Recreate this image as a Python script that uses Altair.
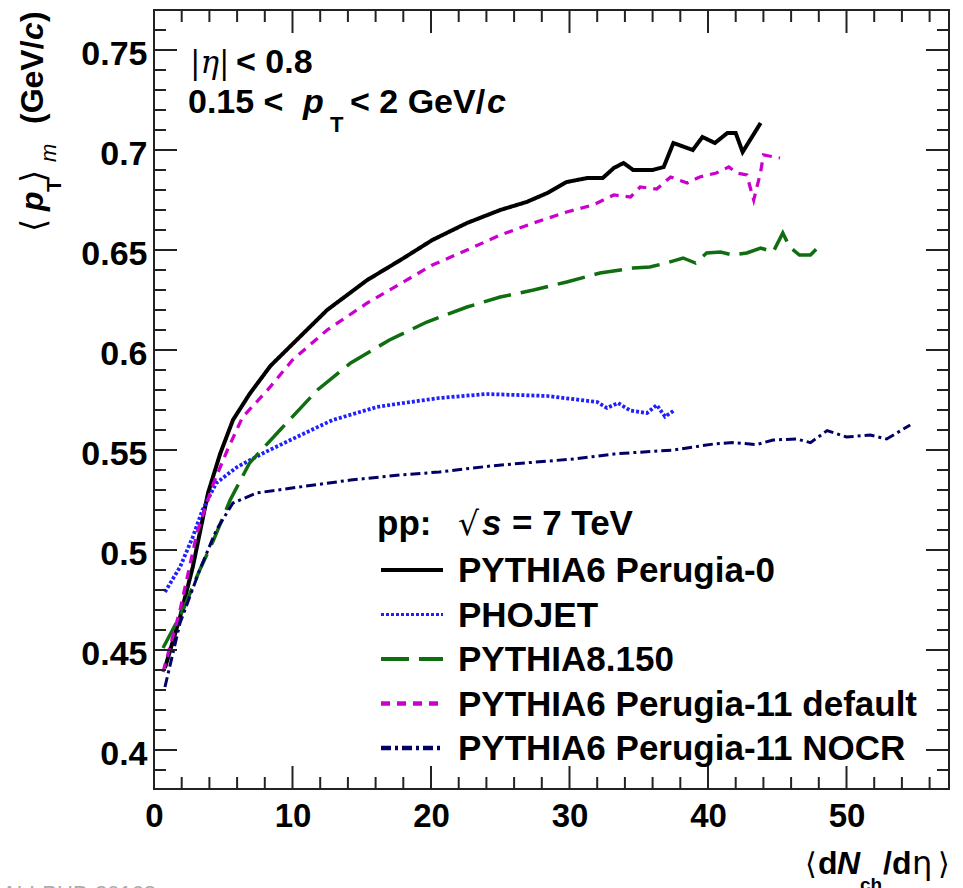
import altair as alt
import pandas as pd

# ---------------- data ----------------
names = ["PYTHIA6 Perugia-0", "PHOJET", "PYTHIA8.150",
         "PYTHIA6 Perugia-11 default", "PYTHIA6 Perugia-11 NOCR"]

p0_x = [0.79, 1.88, 2.8, 3.9, 4.77, 5.7, 6.9, 8.4, 10.3, 12.5, 15.4, 17.8, 20.1, 22.6,
        25.0, 26.9, 28.4, 29.8, 31.3, 32.4, 33.2, 33.9, 34.6, 36.0, 36.8, 37.5, 38.9,
        39.6, 40.5, 41.4, 42.0, 42.5, 43.8]
p0_y = [0.441, 0.4665, 0.4915, 0.5285, 0.548, 0.565, 0.578, 0.592, 0.605, 0.62, 0.635,
        0.645, 0.655, 0.6635, 0.670, 0.674, 0.6785, 0.684, 0.686, 0.686, 0.691, 0.6935,
        0.690, 0.690, 0.6915, 0.7035, 0.700, 0.7065, 0.7035, 0.7085, 0.7085, 0.699, 0.7135]

ph_x = [0.79, 1.88, 2.8, 3.5, 4.5, 6.0, 7.9, 10.3, 12.9, 16.1, 18.0, 20.6, 24.0, 28.4,
        30.8, 32.0, 32.7, 33.5, 34.4, 35.6, 36.3, 36.9, 37.6]
ph_y = [0.479, 0.4915, 0.5065, 0.52, 0.5335, 0.5415, 0.5485, 0.5565, 0.565, 0.5715,
        0.5735, 0.576, 0.578, 0.577, 0.575, 0.574, 0.571, 0.5735, 0.5697, 0.5685,
        0.5725, 0.5667, 0.570]

p8_x = [0.65, 2.1, 3.3, 4.3, 5.5, 6.9, 9.1, 11.8, 14.2, 17.0, 19.7, 22.6, 25.0, 27.4,
        29.8, 32.2, 34.6, 35.8, 37.0, 38.2, 39.1, 39.9, 40.9, 41.8, 42.8, 43.8, 44.7,
        45.4, 45.9, 46.6, 47.4, 48.1]
p8_y = [0.451, 0.47, 0.49, 0.505, 0.525, 0.5435, 0.56, 0.58, 0.5935, 0.605, 0.614,
        0.6215, 0.6265, 0.63, 0.634, 0.6385, 0.641, 0.6415, 0.6435, 0.646, 0.6435,
        0.6485, 0.649, 0.6475, 0.6485, 0.651, 0.649, 0.6585, 0.6515, 0.6475, 0.6475, 0.6525]

p11_x = [0.65, 1.88, 3.1, 4.3, 5.3, 6.4, 8.2, 10.0, 12.5, 15.4, 18.0, 20.1, 22.6, 25.0,
         27.4, 29.8, 31.7, 33.2, 34.4, 35.1, 36.3, 37.3, 38.5, 39.4, 40.6, 41.5, 42.1,
         42.8, 43.3, 43.8, 44.0, 45.2]
p11_y = [0.439, 0.47, 0.5085, 0.5335, 0.55, 0.5665, 0.58, 0.595, 0.61, 0.6235, 0.634,
         0.6425, 0.65, 0.6575, 0.6635, 0.669, 0.6725, 0.6775, 0.6765, 0.6815, 0.6805,
         0.6865, 0.6835, 0.6865, 0.6885, 0.6915, 0.6885, 0.6875, 0.675, 0.689, 0.6975, 0.696]

nocr_x = [0.79, 1.88, 3.3, 4.5, 5.7, 7.4, 10.5, 14.2, 17.8, 20.6, 24.3, 27.1, 30.3, 33.2,
          34.6, 37.5, 40.4, 41.8, 43.5, 44.7, 46.4, 47.4, 48.6, 50.0, 51.7, 52.9, 54.6]
nocr_y = [0.4315, 0.4635, 0.49, 0.51, 0.5235, 0.5285, 0.5315, 0.535, 0.5375, 0.539,
          0.542, 0.5437, 0.5455, 0.548, 0.5487, 0.55, 0.553, 0.5537, 0.5527, 0.555,
          0.5555, 0.5537, 0.5597, 0.5565, 0.5575, 0.5555, 0.5625]

x_major = [0, 10, 20, 30, 40, 50]
x_minor = [2, 4, 6, 8, 12, 14, 16, 18, 22, 24, 26, 28, 32, 34, 36, 38, 42, 44, 46, 48,
           52, 54, 56]
y_major = [0.4, 0.45, 0.5, 0.55, 0.6, 0.65, 0.7, 0.75]
y_minor = [0.39, 0.41, 0.42, 0.43, 0.44, 0.46, 0.47, 0.48, 0.49, 0.51, 0.52, 0.53, 0.54,
           0.56, 0.57, 0.58, 0.59, 0.61, 0.62, 0.63, 0.64, 0.66, 0.67, 0.68, 0.69, 0.71,
           0.72, 0.73, 0.74, 0.76]

# ---------------- styles ----------------
colors = ["#000000", "#1f1fff", "#0f6e0f", "#cc00cc", "#000066"]
dashes = [[1, 0], [3, 2], [28, 10], [9, 7], [10, 4, 3, 4]]
widths = [4, 3, 4, 4.5, 4.5]
FONT = "Liberation Sans"
FRAME = "#222222"

W, H = 795, 779
L, T = 154, 10

rows = []
for nm, xs, ys in zip(names, [p0_x, ph_x, p8_x, p11_x, nocr_x],
                      [p0_y, ph_y, p8_y, p11_y, nocr_y]):
    for a, b in zip(xs, ys):
        rows.append({"series": nm, "x": a, "y": b})
df = pd.DataFrame(rows)

xscale = alt.Scale(domain=[0, 57.4], nice=False, zero=False)
yscale = alt.Scale(domain=[0.3805, 0.77], nice=False, zero=False)

xaxis = alt.Axis(values=x_major, title=None, ticks=False, tickSize=0, domain=False,
                 grid=False, labelFontSize=33, labelFont=FONT, labelFontWeight="bold",
                 labelColor="black", labelPadding=11, labelFlush=False,
                 labelOverlap=False, format="d")
yaxis = alt.Axis(values=y_major, title=None, ticks=False, tickSize=0, domain=False,
                 grid=False, labelFontSize=34, labelFont=FONT, labelFontWeight="bold",
                 labelColor="black", labelPadding=7, labelOffset=4, labelFlush=False,
                 labelOverlap=False, format=".2~f")

lines = alt.Chart(df).mark_line(strokeCap="butt", strokeJoin="miter").encode(
    x=alt.X("x:Q", scale=xscale, axis=xaxis),
    y=alt.Y("y:Q", scale=yscale, axis=yaxis),
    color=alt.Color("series:N", scale=alt.Scale(domain=names, range=colors), legend=None),
    strokeDash=alt.StrokeDash("series:N", scale=alt.Scale(domain=names, range=dashes), legend=None),
    strokeWidth=alt.StrokeWidth("series:N", scale=alt.Scale(domain=names, range=widths), legend=None),
)


def xticks(vals, length, top):
    d = pd.DataFrame({"x": vals})
    y0 = 0 if top else H
    y1 = length if top else H - length
    return alt.Chart(d).mark_rule(color=FRAME, strokeWidth=2).encode(
        x=alt.X("x:Q", scale=xscale, axis=xaxis), y=alt.value(y0), y2=alt.value(y1))


def yticks(vals, length, right):
    d = pd.DataFrame({"y": vals})
    x0 = W if right else 0
    x1 = W - length if right else length
    return alt.Chart(d).mark_rule(color=FRAME, strokeWidth=2).encode(
        y=alt.Y("y:Q", scale=yscale, axis=yaxis), x=alt.value(x0), x2=alt.value(x1))


ticks = [xticks(x_major, 23, False), xticks(x_minor, 12, False),
         xticks(x_major, 23, True), xticks(x_minor, 12, True),
         yticks(y_major, 23, False), yticks(y_minor, 12, False),
         yticks(y_major, 23, True), yticks(y_minor, 12, True)]

one = pd.DataFrame({"a": [0]})


def txt(s, px, py, size=32, weight="bold", style="normal", angle=0, font=FONT,
        color="black", align="left", baseline="alphabetic"):
    kw = dict(text=s, fontSize=size, fontWeight=weight, fontStyle=style, font=font,
              color=color, align=align, baseline=baseline)
    if angle:
        kw["angle"] = angle
    return alt.Chart(one).mark_text(**kw).encode(x=alt.value(px - L), y=alt.value(py - T))


texts = []
# y-axis title (rotated)
texts += [
    txt("⟨", 45, 232, size=34, weight="normal", angle=270, font="DejaVu Sans"),
    txt("p", 43, 211, size=32, style="italic", angle=270),
    txt("T", 61, 192, size=21, angle=270),
    txt("⟩", 45, 183, size=34, weight="normal", angle=270, font="DejaVu Sans"),
    txt("m", 56, 162, size=22, weight="normal", style="italic", angle=270),
    txt("(GeV/", 43, 124, size=32, angle=270),
    txt("c", 43, 40, size=32, style="italic", angle=270),
    txt(")", 43, 22, size=32, angle=270),
]
# x-axis title
texts += [
    txt("⟨", 805, 874, size=30, weight="normal", font="DejaVu Sans"),
    txt("d", 818, 874),
    txt("N", 837, 874, style="italic"),
    txt("ch", 860, 891, size=19),
    txt("/d", 883, 874),
    txt("η", 912, 874, size=32, weight="normal", font="DejaVu Sans"),
    txt("⟩", 938, 874, size=30, weight="normal", font="DejaVu Sans"),
]
# annotation top-left
texts += [
    txt("|η|", 190, 73, size=31, weight="normal", style="italic", font="DejaVu Serif"),
    txt("< 0.8", 236, 73, size=34),
    txt("0.15 <", 188, 113, size=34),
    txt("p", 303, 113, size=34, style="italic"),
    txt("T", 330, 132, size=22),
    txt("< 2 GeV/", 350, 113, size=34),
    txt("c", 487, 113, size=34, style="italic"),
]
# legend header
texts += [
    txt("pp:", 377, 535, size=35),
    txt("√", 458, 535, size=33, weight="normal", font="DejaVu Sans"),
    txt("s", 482, 535, size=35, style="italic"),
    txt("= 7 TeV", 512, 535, size=35),
]
# faint publication id at the bottom edge
texts.append(txt("ALI-PUB-20168", 2, 901, size=22, weight="normal", color="#aaaaaa"))

# legend entries
row_y = [570, 614.5, 659, 703.5, 748]
legend = []
for i, nm in enumerate(names):
    legend.append(
        alt.Chart(one).mark_rule(color=colors[i], strokeDash=dashes[i], strokeWidth=widths[i],
                                 strokeCap="butt").encode(
            x=alt.value(381 - L), x2=alt.value(443 - L),
            y=alt.value(row_y[i] - T), y2=alt.value(row_y[i] - T)))
    legend.append(txt(nm, 458, row_y[i] + 12, size=35))

chart = alt.layer(lines, *ticks, *legend, *texts).properties(
    width=W, height=H,
    autosize=alt.AutoSizeParams(type="none"),
    padding={"left": L, "top": T, "right": 963 - L - W, "bottom": 888 - T - H},
    background="white",
).configure_view(stroke=FRAME, strokeWidth=2)

chart.save("out.html", embed_options={"renderer": "svg", "actions": False})
